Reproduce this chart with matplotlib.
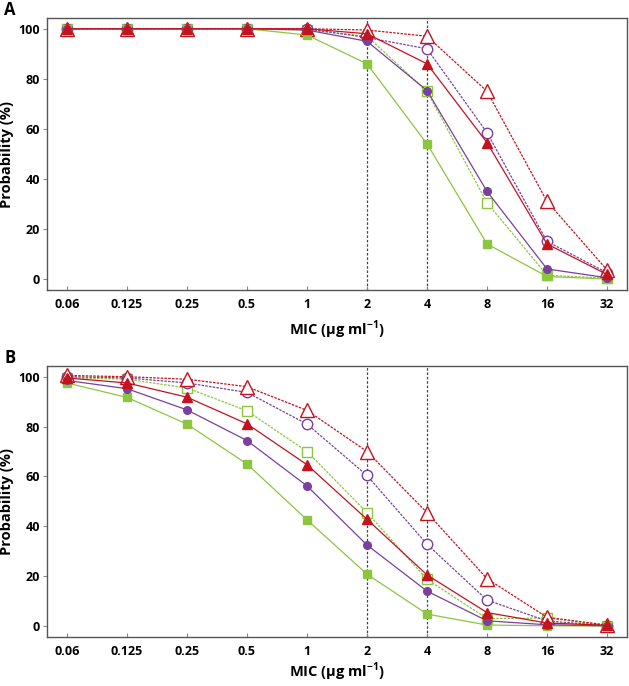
import matplotlib
matplotlib.use("Agg")
import matplotlib.pyplot as plt

plt.rcParams['font.family'] = ['Open Sans', 'DejaVu Sans']
plt.rcParams['font.weight'] = 'bold'
plt.rcParams['mathtext.fontset'] = 'custom'
plt.rcParams['mathtext.bf'] = 'Open Sans:bold'

mic_labels = ["0.06", "0.125", "0.25", "0.5", "1", "2", "4", "8", "16", "32"]

# Panel A
a_open_tri = [100, 100, 100, 100, 100, 99.5, 97, 75, 31, 3.6]
a_open_circ = [100, 100, 100, 100, 100, 96.5, 92, 58.5, 15, 2.5]
a_fill_tri = [100, 100, 100, 100, 100, 98, 86, 54.5, 14, 1.8]
a_fill_circ = [100, 100, 100, 100, 99.5, 95, 75.3, 35, 4, 0.5]
a_open_sq = [100, 100, 100, 100, 99.5, 97, 75, 30.5, 1.5, 0.3]
a_fill_sq = [100, 100, 100, 100, 97.5, 86, 54, 14, 1, 0]

# Panel B
b_open_tri = [100.5, 100, 99, 96, 86.5, 70, 45.5, 19, 3.5, 0.4]
b_open_circ = [100, 99.5, 97.5, 93.7, 81, 60.4, 32.8, 10.4, 2, 0.2]
b_open_sq = [99.5, 99, 95.5, 86.3, 70, 45.5, 18.7, 3, 3.2, 0.2]
b_fill_tri = [99.5, 97.5, 91.8, 81.1, 64.7, 42.8, 20.5, 5.4, 1.2, 0.3]
b_fill_circ = [98.5, 95.2, 86.7, 74.4, 56.2, 32.5, 14, 2.1, 0.5, 0.1]
b_fill_sq = [97.5, 91.7, 81, 65, 42.6, 20.8, 4.8, 0.4, 0.1, 0]

RED = "#C4121F"
PURPLE = "#7B3F9E"
GREEN = "#8CC63E"

fig = plt.figure(figsize=(6.29, 6.86), dpi=100)
axA = fig.add_axes([47/629, 1-290/686, 580/629, 272/686])
axB = fig.add_axes([47/629, 1-637/686, 580/629, 271/686])

def draw(ax, series, xpad):
    x = list(range(len(mic_labels)))
    for vals, color, marker, filled, ls, ms in series:
        ax.plot(x, vals, color=color, linestyle=ls, linewidth=0.9,
                marker=marker, markersize=ms,
                markerfacecolor=color if filled else 'white',
                markeredgecolor=color, markeredgewidth=1.0, zorder=3 if filled else 2)
    for xv in (5, 6):
        ax.axvline(xv, color='#444444', linestyle=(0, (2, 1.5)), linewidth=0.9, zorder=1)
    ax.set_xlim(-0.333, 9.333)
    ax.set_ylim(-4.4, 104.3)
    ax.set_xticks(x)
    ax.set_xticklabels(mic_labels)
    ax.set_yticks([0, 20, 40, 60, 80, 100])
    ax.tick_params(axis='x', direction='in', length=3, color='#888888', labelsize=9, pad=6)
    ax.tick_params(axis='y', direction='out', length=3, color='#888888', labelsize=9, pad=2)
    for s in ax.spines.values():
        s.set_color('#555555')
        s.set_linewidth(1.0)
    ax.set_ylabel("Probability (%)", fontsize=10.5, fontweight='bold', labelpad=3)
    ax.set_xlabel("MIC (μg ml$^{\\mathbf{-1}}$)", fontsize=10.5, fontweight='bold', labelpad=xpad)

seriesA = [
    (a_open_sq, GREEN, 's', False, (0, (2, 1)), 7),
    (a_fill_sq, GREEN, 's', True, '-', 5.5),
    (a_open_circ, PURPLE, 'o', False, (0, (2, 1)), 7.5),
    (a_fill_circ, PURPLE, 'o', True, '-', 5.5),
    (a_open_tri, RED, '^', False, (0, (2, 1)), 9.5),
    (a_fill_tri, RED, '^', True, '-', 7),
]
seriesB = [
    (b_open_sq, GREEN, 's', False, (0, (2, 1)), 7.5),
    (b_fill_sq, GREEN, 's', True, '-', 5.5),
    (b_open_circ, PURPLE, 'o', False, (0, (2, 1)), 7.5),
    (b_fill_circ, PURPLE, 'o', True, '-', 5.5),
    (b_open_tri, RED, '^', False, (0, (2, 1)), 9.5),
    (b_fill_tri, RED, '^', True, '-', 7),
]
draw(axA, seriesA, 5)
draw(axB, seriesB, 2)

fig.text(10/629, 1-10/686, "A", fontsize=12, fontweight='bold', va='center', ha='center')
fig.text(10/629, 1-358/686, "B", fontsize=12, fontweight='bold', va='center', ha='center')

fig.savefig("out.png", dpi=100)
